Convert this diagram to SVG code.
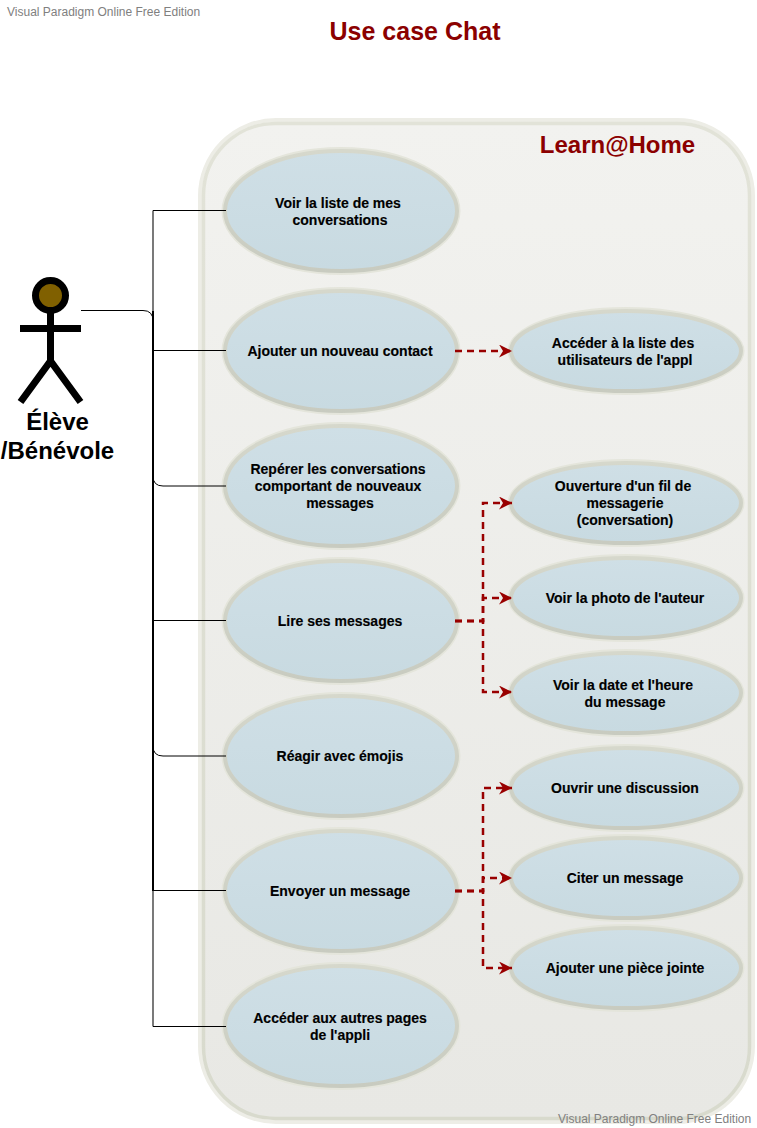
<svg xmlns="http://www.w3.org/2000/svg" width="757" height="1128" viewBox="0 0 757 1128">
<style>
text{font-family:"Liberation Sans",Arial,sans-serif}
.u{font-size:14px;font-weight:700;fill:#000;text-anchor:middle;stroke:#000;stroke-width:.15}
.e{fill:url(#eg);stroke:url(#es);stroke-width:4}
.h{fill:none;stroke:#e4e5db;stroke-width:3}
.a{fill:none;stroke:#000;stroke-width:1}
.d{fill:none;stroke:#990000;stroke-width:2.5;stroke-dasharray:7 5}
.wm{font-size:12px;fill:#808080}
</style>
<defs>
<linearGradient id="bg" x1="0" y1="0" x2="0" y2="1"><stop offset="0" stop-color="#f2f2ef"/><stop offset="1" stop-color="#e8e8e4"/></linearGradient>
<linearGradient id="eg" x1="0" y1="0" x2="0" y2="1"><stop offset="0" stop-color="#cfdfe6"/><stop offset="1" stop-color="#c8dae1"/></linearGradient>
<linearGradient id="es" x1="0" y1="0" x2="0" y2="1"><stop offset="0" stop-color="#d6d8cc"/><stop offset="1" stop-color="#c8cbc0"/></linearGradient>
<linearGradient id="bs" x1="0" y1="0" x2="0" y2="1"><stop offset="0" stop-color="#e2e3d8"/><stop offset="1" stop-color="#d8dacd"/></linearGradient>
<marker id="ar" markerUnits="userSpaceOnUse" markerWidth="14" markerHeight="13" refX="13" refY="6.500" orient="auto"><path d="M0 0L13 6.500L0 13L4 6.500Z" fill="#990000"/></marker>
</defs>
<text x="7" y="16" class="wm">Visual Paradigm Online Free Edition</text>
<text x="415" y="40" font-size="25" font-weight="700" fill="#8b0000" text-anchor="middle">Use case Chat</text>
<g id="system">
<rect x="200" y="120" width="553" height="1002" rx="76" ry="76" fill="none" stroke="#ededE6" stroke-width="4"/>
<rect x="203.500" y="123.500" width="546" height="995" rx="72" ry="72" fill="url(#bg)" stroke="url(#bs)" stroke-width="3.500"/>
<text x="617.500" y="153" font-size="24" font-weight="700" fill="#8b0000" text-anchor="middle">Learn@Home</text>
</g>
<g id="actor">
<circle cx="50.500" cy="295.500" r="15" fill="#806000" stroke="#000" stroke-width="7"/>
<path d="M50.500 312V361M20 328.500H81M50.500 361L20.500 402M50.500 361L80.500 402" fill="none" stroke="#000" stroke-width="7"/>
<text x="57.500" y="430" font-size="24" font-weight="700" text-anchor="middle">Élève</text>
<text x="57.500" y="459" font-size="24" font-weight="700" text-anchor="middle">/Bénévole</text>
</g>
<g id="uc1"><ellipse class="h" cx="341" cy="211" rx="118" ry="62.500"/><ellipse class="e" cx="341" cy="211" rx="116" ry="60"/><text class="u" x="338" y="208">Voir la liste de mes</text><text class="u" x="340" y="225">conversations</text></g>
<g id="uc2"><ellipse class="h" cx="341" cy="351" rx="118" ry="62.500"/><ellipse class="e" cx="341" cy="351" rx="116" ry="60"/><text class="u" x="340" y="356">Ajouter un nouveau contact</text></g>
<g id="uc3"><ellipse class="h" cx="341" cy="486" rx="118" ry="62.500"/><ellipse class="e" cx="341" cy="486" rx="116" ry="60"/><text class="u" x="338" y="474">Repérer les conversations</text><text class="u" x="338" y="491">comportant de nouveaux</text><text class="u" x="340" y="508">messages</text></g>
<g id="uc4"><ellipse class="h" cx="341" cy="621" rx="118" ry="62.500"/><ellipse class="e" cx="341" cy="621" rx="116" ry="60"/><text class="u" x="340" y="626">Lire ses messages</text></g>
<g id="uc5"><ellipse class="h" cx="341" cy="756" rx="118" ry="62.500"/><ellipse class="e" cx="341" cy="756" rx="116" ry="60"/><text class="u" x="340" y="761">Réagir avec émojis</text></g>
<g id="uc6"><ellipse class="h" cx="341" cy="891" rx="118" ry="62.500"/><ellipse class="e" cx="341" cy="891" rx="116" ry="60"/><text class="u" x="340" y="896">Envoyer un message</text></g>
<g id="uc7"><ellipse class="h" cx="341" cy="1026" rx="118" ry="62.500"/><ellipse class="e" cx="341" cy="1026" rx="116" ry="60"/><text class="u" x="340" y="1023">Accéder aux autres pages</text><text class="u" x="340" y="1040">de l'appli</text></g>
<g id="uc8"><ellipse class="h" cx="626" cy="351" rx="117" ry="42.500"/><ellipse class="e" cx="626" cy="351" rx="115" ry="40"/><text class="u" x="623" y="348">Accéder à la liste des</text><text class="u" x="625" y="365">utilisateurs de l'appl</text></g>
<g id="uc9"><ellipse class="h" cx="626" cy="503" rx="117" ry="42.500"/><ellipse class="e" cx="626" cy="503" rx="115" ry="40"/><text class="u" x="623" y="491">Ouverture d'un fil de</text><text class="u" x="625" y="508">messagerie</text><text class="u" x="625" y="525">(conversation)</text></g>
<g id="uc10"><ellipse class="h" cx="626" cy="598" rx="117" ry="42.500"/><ellipse class="e" cx="626" cy="598" rx="115" ry="40"/><text class="u" x="625" y="603">Voir la photo de l'auteur</text></g>
<g id="uc11"><ellipse class="h" cx="626" cy="693" rx="117" ry="42.500"/><ellipse class="e" cx="626" cy="693" rx="115" ry="40"/><text class="u" x="623" y="690">Voir la date et l'heure</text><text class="u" x="625" y="707">du message</text></g>
<g id="uc12"><ellipse class="h" cx="626" cy="788" rx="117" ry="42.500"/><ellipse class="e" cx="626" cy="788" rx="115" ry="40"/><text class="u" x="625" y="793">Ouvrir une discussion</text></g>
<g id="uc13"><ellipse class="h" cx="626" cy="878" rx="117" ry="42.500"/><ellipse class="e" cx="626" cy="878" rx="115" ry="40"/><text class="u" x="625" y="883">Citer un message</text></g>
<g id="uc14"><ellipse class="h" cx="626" cy="968" rx="117" ry="42.500"/><ellipse class="e" cx="626" cy="968" rx="115" ry="40"/><text class="u" x="625" y="973">Ajouter une pièce jointe</text></g>
<g id="connectors">
<path class="a" d="M81 310.500H143Q153 310.500 153 321"/>
<path d="M153 311V891" fill="none" stroke="#000" stroke-width="2"/>
<path d="M153 210.500V311M153 891V1026.500" fill="none" stroke="#333" stroke-width="1.300"/>
<path class="a" d="M153 210.500H226M153 350.500H226M153 476Q153 486 163 486H226M153 620.500H226M153 746Q153 756 163 756H226M153 890.500H226M153 1026.500H226"/>
<path class="d" d="M455 351H512" marker-end="url(#ar)"/>
<path class="d" d="M455 621H483V503H512" marker-end="url(#ar)"/>
<path class="d" d="M455 621H483V598H512" marker-end="url(#ar)"/>
<path class="d" d="M455 621H483V692H512" marker-end="url(#ar)"/>
<path class="d" d="M455 891H483V788H512" marker-end="url(#ar)"/>
<path class="d" d="M455 891H483V878H512" marker-end="url(#ar)"/>
<path class="d" d="M455 891H483V968H512" marker-end="url(#ar)"/>
</g>
<text x="558" y="1123" class="wm">Visual Paradigm Online Free Edition</text>
</svg>
